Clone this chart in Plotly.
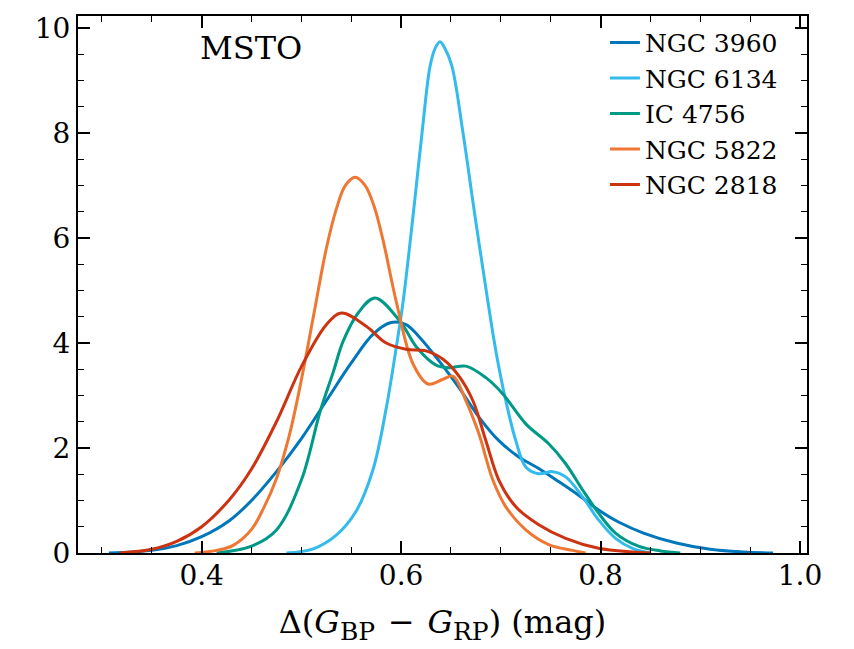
import plotly.graph_objects as go

# ---- data ----
ngc3960_x = [0.307, 0.35, 0.375, 0.40, 0.428, 0.45, 0.475, 0.50, 0.525, 0.55, 0.572, 0.59, 0.605, 0.618,
             0.638, 0.658, 0.678, 0.698, 0.718, 0.738, 0.758, 0.778, 0.798, 0.818, 0.843, 0.876, 0.91, 0.943, 0.973]
ngc3960_y = [0.0, 0.05, 0.14, 0.31, 0.62, 1.0, 1.55, 2.18, 2.90, 3.62, 4.17, 4.39, 4.35, 4.12,
             3.66, 3.15, 2.59, 2.14, 1.83, 1.61, 1.36, 1.10, 0.82, 0.59, 0.38, 0.19, 0.07, 0.02, 0.0]

ngc6134_x = [0.485, 0.512, 0.535, 0.555, 0.572, 0.585, 0.595, 0.602, 0.612, 0.621, 0.629, 0.634, 0.639, 0.644,
             0.651, 0.662, 0.674, 0.687, 0.695, 0.705, 0.715, 0.725, 0.738, 0.752, 0.765, 0.782, 0.798, 0.815,
             0.832, 0.85]
ngc6134_y = [0.0, 0.08, 0.34, 0.8, 1.6, 2.75, 3.9, 4.79, 6.43, 8.01, 9.27, 9.61, 9.74, 9.61,
             9.27, 8.01, 6.43, 4.79, 3.85, 2.90, 2.14, 1.64, 1.51, 1.55, 1.45, 1.07, 0.63, 0.28,
             0.09, 0.0]

ic4756_x = [0.415, 0.45, 0.475, 0.50, 0.519, 0.532, 0.542, 0.558, 0.574, 0.599, 0.616, 0.635, 0.648, 0.665,
            0.685, 0.702, 0.725, 0.748, 0.765, 0.782, 0.798, 0.815, 0.838, 0.86, 0.88]
ic4756_y = [0.0, 0.13, 0.44, 1.39, 2.71, 3.45, 4.04, 4.6, 4.86, 4.41, 3.91, 3.58, 3.53, 3.56,
            3.34, 3.03, 2.46, 2.08, 1.70, 1.20, 0.76, 0.38, 0.13, 0.04, 0.0]

ngc5822_x = [0.393, 0.415, 0.432, 0.45, 0.462, 0.475, 0.488, 0.50, 0.512, 0.525, 0.535, 0.544, 0.554, 0.564,
             0.573, 0.582, 0.595, 0.612, 0.627, 0.642, 0.652, 0.665, 0.678, 0.692, 0.705, 0.725, 0.748,
             0.772, 0.785]
ngc5822_y = [0.0, 0.05, 0.15, 0.45, 0.85, 1.42, 2.25, 3.3, 4.5, 5.8, 6.55, 7.0, 7.16, 7.0,
             6.6, 5.95, 4.8, 3.6, 3.22, 3.31, 3.37, 2.90, 2.27, 1.39, 0.88, 0.44, 0.16,
             0.05, 0.0]

ngc2818_x = [0.318, 0.35, 0.375, 0.40, 0.428, 0.45, 0.475, 0.50, 0.525, 0.540, 0.565, 0.585, 0.605, 0.625,
             0.642, 0.658, 0.672, 0.685, 0.698, 0.715, 0.738, 0.765, 0.798, 0.832, 0.85]
ngc2818_y = [0.0, 0.07, 0.22, 0.5, 1.02, 1.6, 2.5, 3.55, 4.35, 4.57, 4.32, 4.0, 3.88, 3.85,
             3.69, 3.37, 2.90, 2.14, 1.39, 0.88, 0.54, 0.28, 0.09, 0.02, 0.0]

names = ["NGC 3960", "NGC 6134", "IC 4756", "NGC 5822", "NGC 2818"]
colors = ["#0077BB", "#33BBEE", "#009988", "#EE7733", "#CC3311"]
xs = [ngc3960_x, ngc6134_x, ic4756_x, ngc5822_x, ngc2818_x]
ys = [ngc3960_y, ngc6134_y, ic4756_y, ngc5822_y, ngc2818_y]

x_ticks = [0.4, 0.6, 0.8, 1.0]
y_ticks = [0, 2, 4, 6, 8, 10]

FONT = "DejaVu Serif"

fig = go.Figure()
for x, y, n, c in zip(xs, ys, names, colors):
    fig.add_trace(go.Scatter(x=x, y=y, name=n, mode="lines",
                             line=dict(color=c, width=3, shape="spline", smoothing=1.0)))

axis_common = dict(
    showline=True, linecolor="black", linewidth=2, mirror="allticks",
    ticks="inside", ticklen=12, tickwidth=1.6, tickcolor="black",
    showgrid=False, zeroline=False,
    tickfont=dict(family=FONT, size=28, color="black"),
)

sub_style = "font-size:25px"
x_title = ("Δ(<i>G</i><sub><span style='%s'>BP</span></sub>&#8201;&#8201;−&#8201;&#8201;"
           "<i>G</i><sub><span style='%s'>RP</span></sub>) (mag)") % (sub_style, sub_style)

fig.update_xaxes(
    range=[0.276, 1.007], tickvals=x_ticks, ticktext=[f"{v:.1f}" for v in x_ticks],
    minor=dict(ticks="inside", ticklen=6, tickwidth=1.4, tickcolor="black", dtick=0.05, tick0=0.0),
    title=dict(text=x_title, font=dict(family=FONT, size=32, color="black"), standoff=20),
    ticklabelstandoff=-4,
    **axis_common,
)
fig.update_yaxes(
    range=[0, 10.23], tickvals=y_ticks, ticktext=[str(v) for v in y_ticks],
    minor=dict(ticks="inside", ticklen=6, tickwidth=1.4, tickcolor="black", dtick=0.5, tick0=0.0),
    **axis_common,
)

fig.add_annotation(text="MSTO", xref="paper", yref="paper", x=0.237, y=0.94,
                   showarrow=False, xanchor="center", yanchor="middle",
                   font=dict(family=FONT, size=32, color="black"))

fig.update_layout(
    width=854, height=649,
    margin=dict(l=78, r=47, t=12, b=96),
    paper_bgcolor="white", plot_bgcolor="white",
    legend=dict(x=0.967, y=0.993, xanchor="right", yanchor="top",
                bgcolor="rgba(0,0,0,0)", borderwidth=0,
                font=dict(family=FONT, size=25, color="black")),
    font=dict(family=FONT, color="black"),
)

fig.write_html("out.html")
